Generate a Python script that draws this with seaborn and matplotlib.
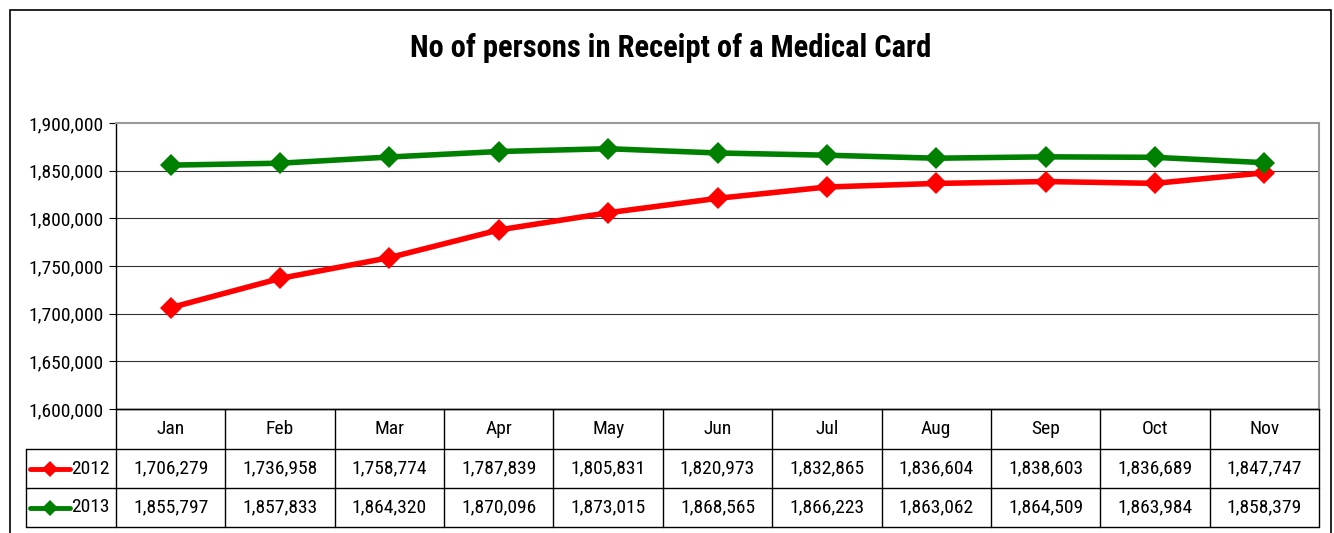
import pandas as pd
import matplotlib.pyplot as plt
import seaborn as sns
from matplotlib.lines import Line2D
from matplotlib.patches import Rectangle
from matplotlib.transforms import blended_transform_factory
from matplotlib.ticker import FuncFormatter
from matplotlib import font_manager

months = ["Jan", "Feb", "Mar", "Apr", "May", "Jun", "Jul", "Aug", "Sep", "Oct", "Nov"]
vals_2012 = [1706279, 1736958, 1758774, 1787839, 1805831, 1820973,
             1832865, 1836604, 1838603, 1836689, 1847747]
vals_2013 = [1855797, 1857833, 1864320, 1870096, 1873015, 1868565,
             1866223, 1863062, 1864509, 1863984, 1858379]
series = ["2012", "2013"]
colors = {"2012": "#ff0000", "2013": "#008000"}

df = pd.DataFrame({
    "month": months * 2,
    "pos": list(range(len(months))) * 2,
    "year": ["2012"] * len(months) + ["2013"] * len(months),
    "value": vals_2012 + vals_2013,
})

sns.set_style("white")
installed = {f.name for f in font_manager.fontManager.ttflist}
fams = [f for f in ["Liberation Sans Narrow", "Roboto Condensed", "Open Sans Condensed",
                    "Liberation Sans"] if f in installed] + ["DejaVu Sans"]
narrow = fams[0] != "Liberation Sans"
plt.rcParams['font.family'] = fams
plt.rcParams['text.color'] = "black"
plt.rcParams['axes.labelcolor'] = "black"
plt.rcParams['ytick.color'] = "black"

fs = 14 if narrow else 11.5
W, H = 1334, 533
fig = plt.figure(figsize=(W / 100, H / 100), dpi=100)
ax = fig.add_axes([116 / W, 1 - 409 / H, (1319 - 116) / W, (409 - 123) / H])

sns.lineplot(data=df, x="pos", y="value", hue="year", palette=colors,
             marker="D", markersize=11, markeredgewidth=0, linewidth=4,
             legend=False, ax=ax)

ax.set_xlim(-0.5, len(months) - 0.5)
ax.set_ylim(1600000, 1900000)
ax.set_yticks(range(1600000, 1900001, 50000))
ax.yaxis.set_major_formatter(FuncFormatter(lambda v, p: f"{int(v):,}"))
ax.set_xticks([])
ax.set_xlabel("")
ax.set_ylabel("")
ax.tick_params(axis="y", labelsize=fs, length=5, width=0.8, direction="out",
               left=True, color="black", pad=4)
for y in range(1650000, 1900000, 50000):
    ax.axhline(y, color="#333333", lw=0.8, zorder=0)
for s in ["top", "right"]:
    ax.spines[s].set_color("#999999")
    ax.spines[s].set_linewidth(1.5)
ax.spines["left"].set_color("black")
ax.spines["bottom"].set_color("black")
ax.spines["left"].set_linewidth(1)
ax.spines["bottom"].set_linewidth(1)

# data table under the axes
tr = blended_transform_factory(ax.transData, ax.transAxes)
ah = 409 - 123
ry = [0, -(449 - 409) / ah, -(488 - 409) / ah, -(527 - 409) / ah]
cw = (1319 - 116) / len(months)
xl = -0.5 - (116 - 26) / cw
n = len(months)

def ln(xs, ys, **kw):
    ax.add_line(Line2D(xs, ys, transform=tr, clip_on=False, color="black", lw=1, **kw))

for i in range(n + 1):
    ln([i - 0.5, i - 0.5], [ry[0], ry[3]])
ln([-0.5, n - 0.5], [ry[0], ry[0]])
ln([xl, n - 0.5], [ry[1], ry[1]])
ln([xl, n - 0.5], [ry[2], ry[2]])
ln([xl, n - 0.5], [ry[3], ry[3]])
ln([xl, xl], [ry[1], ry[3]])

for i, m in enumerate(months):
    ax.text(i, (ry[0] + ry[1]) / 2, m, transform=tr, ha="center", va="center", fontsize=fs)
for r, (name, vals) in enumerate(zip(series, [vals_2012, vals_2013])):
    yc = (ry[r + 1] + ry[r + 2]) / 2
    for i, v in enumerate(vals):
        ax.text(i, yc, f"{v:,}", transform=tr, ha="center", va="center", fontsize=fs)
    ax.text(-0.555, yc, name, transform=tr, ha="right", va="center", fontsize=fs)
    x0 = xl + 4 / cw
    x1 = xl + 44 / cw
    ax.add_line(Line2D([x0, x1], [yc, yc], transform=tr, clip_on=False,
                       color=colors[name], lw=3.5))
    ax.add_line(Line2D([(x0 + x1) / 2], [yc], transform=tr, clip_on=False,
                       color=colors[name], marker="D", markersize=8, markeredgewidth=0))

fig.text(671 / W, 1 - 48 / H, "No of persons in Receipt of a Medical Card",
         ha="center", va="center", fontsize=22 if narrow else 17.5, fontweight="bold")

fig.add_artist(Rectangle((10 / W, -0.05), (1331 - 10) / W, 1 - 10 / H + 0.05,
                         transform=fig.transFigure, fill=False, edgecolor="black", lw=1.2))

fig.savefig("out.png", dpi=100)
